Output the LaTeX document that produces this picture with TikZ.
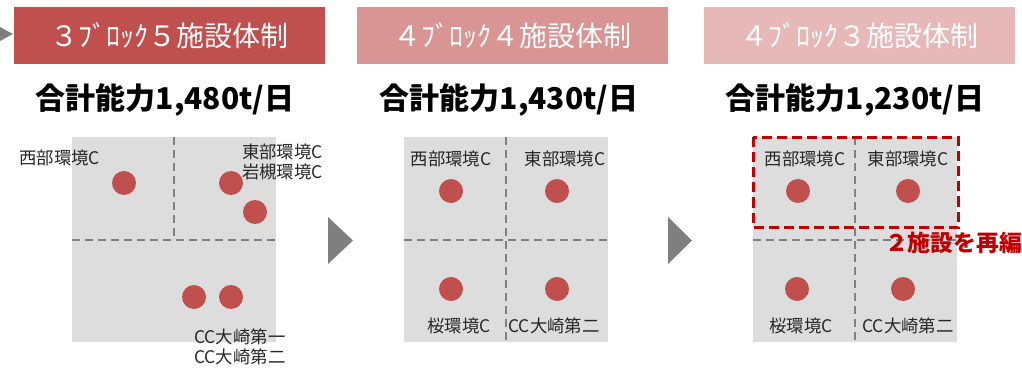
\documentclass[tikz,border=0pt]{standalone}
\usepackage{fontspec}
\setmainfont{Noto Sans CJK JP}
\definecolor{hdrA}{HTML}{C0504D}
\definecolor{hdrB}{HTML}{D99594}
\definecolor{hdrC}{HTML}{E6B9B8}
\definecolor{panelgray}{HTML}{DDDDDD}
\definecolor{dotred}{HTML}{C0504D}
\definecolor{lblgray}{HTML}{262626}
\definecolor{gridgray}{HTML}{808080}
\definecolor{boxred}{HTML}{C00000}
\definecolor{arrgray}{HTML}{7F7F7F}
\tikzset{
 hdr/.style={minimum width=311pt, minimum height=57pt, inner sep=0pt, text=white, font=\fontsize{28}{30}\selectfont},
 ttl/.style={font=\bfseries\fontsize{30}{32}\selectfont, text=black, inner sep=0pt},
 panel/.style={fill=panelgray, draw=none, minimum width=204pt, minimum height=205pt, inner sep=0pt},
 dot/.style={circle, fill=dotred, minimum size=24pt, inner sep=0pt},
 lbl/.style={font=\fontsize{17.4}{20}\selectfont, text=lblgray, inner sep=0pt},
 gridline/.style={draw=gridgray, line width=2pt, dash pattern=on 8pt off 5pt},
 redbox/.style={draw=boxred, line width=3pt, dash pattern=on 10pt off 5pt},
 chev/.style={fill=arrgray, draw=none}
}
\begin{document}
\begin{tikzpicture}[x=1pt,y=-1pt]
\useasboundingbox (0,0) rectangle (1022,374);
% headers
\node[hdr, fill=hdrA] (h1) at (169.5,35.5) {３ﾌﾞﾛｯｸ５施設体制};
\node[hdr, fill=hdrB] (h2) at (512.5,35.5) {４ﾌﾞﾛｯｸ４施設体制};
\node[hdr, fill=hdrC] (h3) at (859,35.5) {４ﾌﾞﾛｯｸ３施設体制};
% titles
\node[ttl] (t1) at (165,100) {合計能力1,480t/日};
\node[ttl] (t2) at (509,100) {合計能力1,430t/日};
\node[ttl] (t3) at (855,100) {合計能力1,230t/日};
% arrows
\fill[chev] (0,27) -- (13,34) -- (0,41) -- cycle;
\fill[chev] (328,217) -- (353,240.5) -- (328,264) -- cycle;
\fill[chev] (668,217) -- (692,240.5) -- (668,264) -- cycle;
% panel 1
\node[panel] (p1) at (174,239.5) {};
\draw[gridline] (p1.north) -- (p1.center);
\draw[gridline] (p1.west) -- (p1.east);
\node[dot] (d11) at (124,183) {};
\node[dot] (d12) at (231,183) {};
\node[dot] (d13) at (255,212) {};
\node[dot] (d14) at (194,297) {};
\node[dot] (d15) at (231,297) {};
\node[lbl, anchor=west] (l11) at (19,158) {西部環境C};
\node[lbl, anchor=east, align=right] (l12) at (323,162) {東部環境C\\岩槻環境C};
\node[lbl, anchor=west, align=left] (l13) at (194,346.5) {CC大崎第一\\CC大崎第二};
% panel 2
\node[panel] (p2) at (506,239.5) {};
\draw[gridline] (p2.north) -- (p2.south);
\draw[gridline] (p2.west) -- (p2.east);
\node[dot] (d21) at (451,191) {};
\node[dot] (d22) at (557,191) {};
\node[dot] (d23) at (451,289) {};
\node[dot] (d24) at (557,289) {};
\node[lbl] (l21) at (451,159) {西部環境C};
\node[lbl] (l22) at (565,159) {東部環境C};
\node[lbl] (l23) at (459,326) {桜環境C};
\node[lbl] (l24) at (554,326) {CC大崎第二};
% panel 3
\node[panel] (p3) at (855,239.5) {};
\draw[gridline] (p3.north) -- (p3.south);
\draw[gridline] (p3.west) -- (p3.east);
\node[dot] (d31) at (798,191) {};
\node[dot] (d32) at (908,191) {};
\node[dot] (d33) at (797,289) {};
\node[dot] (d34) at (903,289) {};
\node[lbl] (l31) at (805,159) {西部環境C};
\node[lbl] (l32) at (908,159) {東部環境C};
\node[lbl] (l33) at (801,326) {桜環境C};
\node[lbl] (l34) at (908,326) {CC大崎第二};
\draw[redbox] (753,137.5) rectangle (958,227);
\node[font=\bfseries\fontsize{22.8}{25}\selectfont, text=boxred, inner sep=0pt, anchor=east] (re) at (1022,243) {２施設を再編};
\end{tikzpicture}
\end{document}
